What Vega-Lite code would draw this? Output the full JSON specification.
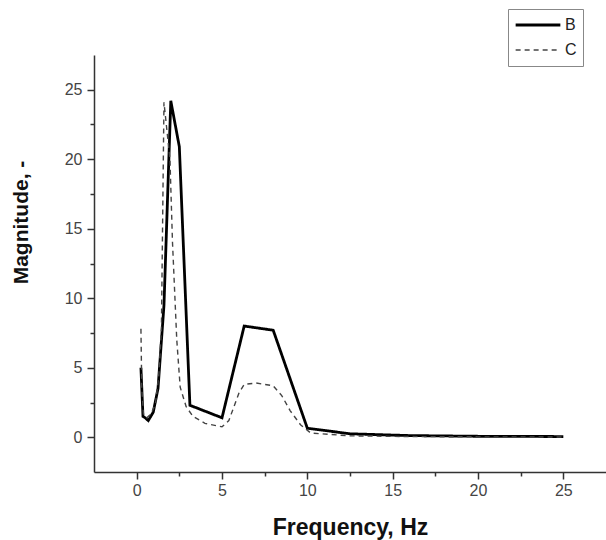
{
  "$schema": "https://vega.github.io/schema/vega-lite/v6.json",
  "width": 512,
  "height": 417,
  "autosize": "none",
  "padding": {"left": 94, "top": 55, "right": 0, "bottom": 68},
  "background": "white",
  "config": {
    "view": {"stroke": null},
    "font": "Liberation Sans",
    "legend": {
      "orient": "none",
      "legendX": 414,
      "legendY": -46,
      "strokeColor": "#888888",
      "padding": 6,
      "rowPadding": 5,
      "symbolType": "stroke",
      "symbolSize": 2000,
      "labelFontSize": 16,
      "labelColor": "#222222",
      "labelOffset": 3,
      "clipHeight": 20
    }
  },
  "data": {
    "values": [
      {"series": "B", "freq": 0.25, "mag": 5.0},
      {"series": "B", "freq": 0.37, "mag": 1.5},
      {"series": "B", "freq": 0.5, "mag": 1.4},
      {"series": "B", "freq": 0.68, "mag": 1.2},
      {"series": "B", "freq": 0.97, "mag": 1.8},
      {"series": "B", "freq": 1.25, "mag": 3.5},
      {"series": "B", "freq": 1.6, "mag": 9.5},
      {"series": "B", "freq": 2.0, "mag": 24.2},
      {"series": "B", "freq": 2.5, "mag": 20.9},
      {"series": "B", "freq": 3.12, "mag": 2.3},
      {"series": "B", "freq": 5.0, "mag": 1.4},
      {"series": "B", "freq": 6.3, "mag": 8.0},
      {"series": "B", "freq": 8.0, "mag": 7.7},
      {"series": "B", "freq": 10.0, "mag": 0.65},
      {"series": "B", "freq": 12.5, "mag": 0.25},
      {"series": "B", "freq": 16.0, "mag": 0.12},
      {"series": "B", "freq": 20.0, "mag": 0.07},
      {"series": "B", "freq": 25.0, "mag": 0.05},
      {"series": "C", "freq": 0.25, "mag": 7.8},
      {"series": "C", "freq": 0.3, "mag": 3.5},
      {"series": "C", "freq": 0.4, "mag": 1.6},
      {"series": "C", "freq": 0.6, "mag": 1.4},
      {"series": "C", "freq": 0.85, "mag": 1.7},
      {"series": "C", "freq": 1.1, "mag": 2.4},
      {"series": "C", "freq": 1.3, "mag": 4.5},
      {"series": "C", "freq": 1.45, "mag": 7.8},
      {"series": "C", "freq": 1.6, "mag": 24.1},
      {"series": "C", "freq": 1.95, "mag": 20.0},
      {"series": "C", "freq": 2.1, "mag": 14.0},
      {"series": "C", "freq": 2.35, "mag": 7.0},
      {"series": "C", "freq": 2.55, "mag": 3.6},
      {"series": "C", "freq": 2.9, "mag": 2.2},
      {"series": "C", "freq": 3.3, "mag": 1.5},
      {"series": "C", "freq": 4.0, "mag": 1.0},
      {"series": "C", "freq": 5.0, "mag": 0.75},
      {"series": "C", "freq": 5.4, "mag": 1.2},
      {"series": "C", "freq": 6.0, "mag": 3.2},
      {"series": "C", "freq": 6.3, "mag": 3.8},
      {"series": "C", "freq": 7.0, "mag": 3.9},
      {"series": "C", "freq": 8.0, "mag": 3.7},
      {"series": "C", "freq": 8.5, "mag": 3.0},
      {"series": "C", "freq": 9.0, "mag": 1.9},
      {"series": "C", "freq": 9.6, "mag": 0.9},
      {"series": "C", "freq": 10.2, "mag": 0.3},
      {"series": "C", "freq": 12.5, "mag": 0.1},
      {"series": "C", "freq": 16.0, "mag": 0.05},
      {"series": "C", "freq": 20.0, "mag": 0.03},
      {"series": "C", "freq": 25.0, "mag": 0.02}
    ]
  },
  "mark": {"type": "line", "strokeJoin": "miter"},
  "encoding": {
    "x": {
      "field": "freq",
      "type": "quantitative",
      "scale": {"domain": [-2.5, 27.5], "nice": false, "zero": false},
      "axis": {
        "title": "Frequency, Hz",
        "values": [0, 2.5, 5, 7.5, 10, 12.5, 15, 17.5, 20, 22.5, 25],
        "labelExpr": "datum.value % 5 === 0 ? datum.label : ''",
        "tickSize": {"condition": {"test": "datum.value % 5 === 0", "value": 7}, "value": 4},
        "grid": false,
        "domainColor": "#333333",
        "domainWidth": 1.5,
        "tickColor": "#333333",
        "tickWidth": 1.5,
        "labelFontSize": 16,
        "labelColor": "#444444",
        "labelPadding": 3,
        "labelFlush": false,
        "titleFontSize": 23,
        "titleFontWeight": "bold",
        "titleColor": "#111111",
        "titleBaseline": "alphabetic",
        "titleY": 62
      }
    },
    "y": {
      "field": "mag",
      "type": "quantitative",
      "scale": {"domain": [-2.5, 27.5], "nice": false, "zero": false},
      "axis": {
        "title": "Magnitude, -",
        "values": [0, 2.5, 5, 7.5, 10, 12.5, 15, 17.5, 20, 22.5, 25],
        "labelExpr": "datum.value % 5 === 0 ? datum.label : ''",
        "tickSize": {"condition": {"test": "datum.value % 5 === 0", "value": 7}, "value": 4},
        "grid": false,
        "domainColor": "#333333",
        "domainWidth": 1.5,
        "tickColor": "#333333",
        "tickWidth": 1.5,
        "labelFontSize": 16,
        "labelColor": "#444444",
        "labelPadding": 5,
        "labelFlush": false,
        "titleFontSize": 21,
        "titleFontWeight": "bold",
        "titleColor": "#111111",
        "titleAngle": 270,
        "titleBaseline": "alphabetic",
        "titleAlign": "center",
        "titleX": -67,
        "titleY": 167
      }
    },
    "color": {
      "field": "series",
      "type": "nominal",
      "scale": {"domain": ["B", "C"], "range": ["#000000", "#444444"]},
      "legend": {"title": null}
    },
    "strokeDash": {
      "field": "series",
      "type": "nominal",
      "scale": {"domain": ["B", "C"], "range": [[1, 0], [5, 4]]},
      "legend": {"title": null}
    },
    "strokeWidth": {
      "field": "series",
      "type": "nominal",
      "scale": {"domain": ["B", "C"], "range": [2.8, 1.4]},
      "legend": {"title": null}
    }
  }
}
